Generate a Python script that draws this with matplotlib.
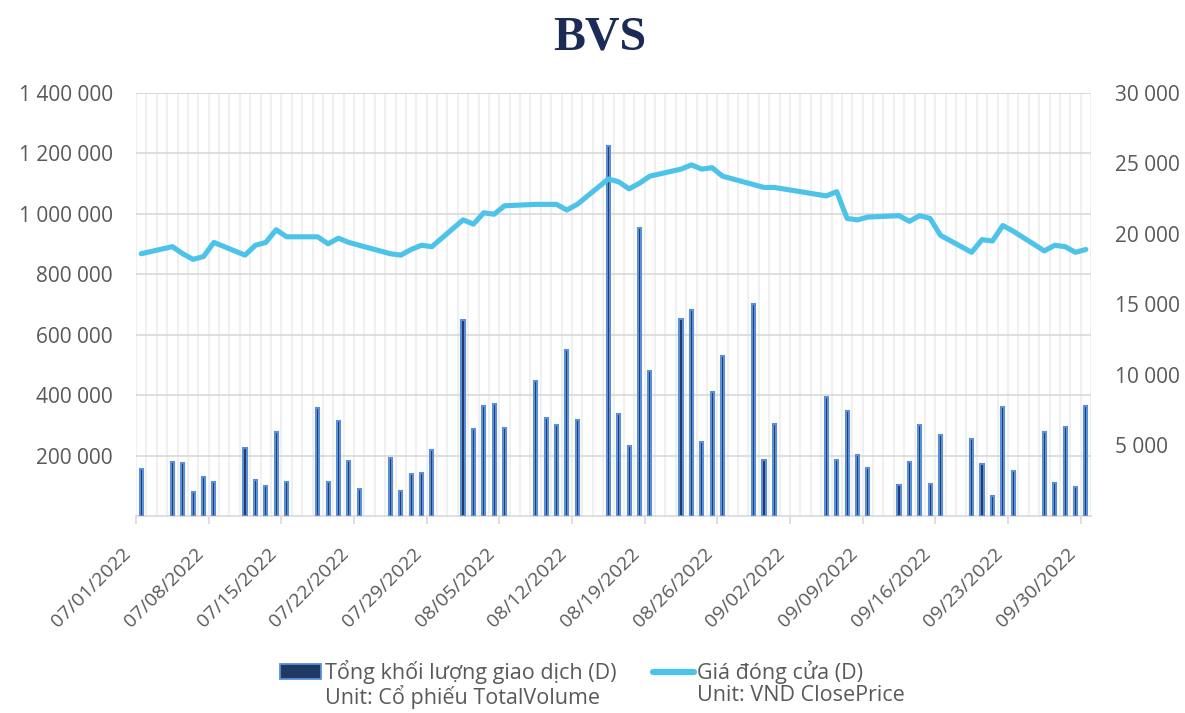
import pandas as pd
import matplotlib
matplotlib.use("Agg")
import matplotlib.pyplot as plt
import matplotlib.dates as mdates
import matplotlib.transforms as mtransforms
from matplotlib.ticker import FuncFormatter
from matplotlib.patches import Rectangle
from matplotlib.lines import Line2D

plt.rcParams['font.family'] = ['Open Sans', 'DejaVu Sans']

# trading days (Jul - Sep 2022)
dates = ["2022-07-01", "2022-07-04", "2022-07-05", "2022-07-06", "2022-07-07", "2022-07-08",
         "2022-07-11", "2022-07-12", "2022-07-13", "2022-07-14", "2022-07-15",
         "2022-07-18", "2022-07-19", "2022-07-20", "2022-07-21", "2022-07-22",
         "2022-07-25", "2022-07-26", "2022-07-27", "2022-07-28", "2022-07-29",
         "2022-08-01", "2022-08-02", "2022-08-03", "2022-08-04", "2022-08-05",
         "2022-08-08", "2022-08-09", "2022-08-10", "2022-08-11", "2022-08-12",
         "2022-08-15", "2022-08-16", "2022-08-17", "2022-08-18", "2022-08-19",
         "2022-08-22", "2022-08-23", "2022-08-24", "2022-08-25", "2022-08-26",
         "2022-08-29", "2022-08-30", "2022-08-31",
         "2022-09-05", "2022-09-06", "2022-09-07", "2022-09-08", "2022-09-09",
         "2022-09-12", "2022-09-13", "2022-09-14", "2022-09-15", "2022-09-16",
         "2022-09-19", "2022-09-20", "2022-09-21", "2022-09-22", "2022-09-23",
         "2022-09-26", "2022-09-27", "2022-09-28", "2022-09-29", "2022-09-30"]

total_volume = [154600, 180000, 176700, 80600, 129200, 113800,
                225300, 119300, 99400, 279400, 112600,
                358900, 111500, 314800, 182200, 90600,
                193300, 83900, 140300, 141400, 219800,
                647200, 288200, 365600, 371100, 292700,
                448400, 324700, 300400, 547800, 319200,
                1225900, 338000, 233000, 953100, 480400,
                650500, 681400, 246300, 411900, 529000,
                701300, 186600, 305900,
                395400, 185500, 349000, 203200, 159000,
                102700, 178900, 301500, 107100, 268400,
                255100, 172300, 65200, 362200, 149100,
                279400, 110400, 293800, 97200, 364400]

close_price = [18600, 19100, 18600, 18200, 18400, 19400,
               18500, 19200, 19400, 20300, 19800,
               19800, 19300, 19700, 19400, 19200,
               18600, 18500, 18900, 19200, 19100,
               21000, 20700, 21500, 21400, 22000,
               22100, 22100, 22100, 21700, 22100,
               23900, 23700, 23200, 23600, 24100,
               24600, 24900, 24600, 24700, 24100,
               23500, 23300, 23300,
               22700, 23000, 21100, 21000, 21200,
               21300, 20900, 21300, 21100, 19900,
               18700, 19600, 19500, 20600, 20200,
               18800, 19200, 19100, 18700, 18900]

x = pd.to_datetime(dates) + pd.Timedelta(hours=12)

fig = plt.figure(figsize=(11.85, 7.13), dpi=100)
ax = fig.add_axes([0.1148, 0.2763, 0.8059, 0.5933])
ax2 = ax.twinx()

ax.bar(x, total_volume, width=0.3, color='#1F3864', edgecolor='#5A8FDA', linewidth=1.5, zorder=3)
ax2.plot(x, close_price, color='#4DC3EA', linewidth=3.7, solid_joinstyle='round',
         solid_capstyle='round', zorder=4)

ax.set_xlim(pd.Timestamp("2022-07-01"), pd.Timestamp("2022-10-01"))
ax.set_ylim(0, 1400000)
ax2.set_ylim(0, 30000)

ax.set_xticks(pd.date_range("2022-07-01", "2022-09-30", freq="7D"))
ax.xaxis.set_minor_locator(mdates.DayLocator())
ax.xaxis.set_major_formatter(mdates.DateFormatter("%m/%d/%Y"))
ax.set_yticks(range(200000, 1400001, 200000))
ax2.set_yticks(range(5000, 30001, 5000))

fmt = FuncFormatter(lambda v, p: f"{int(v):,}".replace(",", " "))
ax.yaxis.set_major_formatter(fmt)
ax2.yaxis.set_major_formatter(fmt)

ax.grid(axis='y', color='#D9D9D9', linewidth=1.2, zorder=0)
ax.grid(axis='x', which='both', color='#F0F0F0', linewidth=1.5, zorder=0)
ax.set_axisbelow(True)
ax.axhline(1400000, color='#D9D9D9', linewidth=1.2, zorder=1)

for a in (ax, ax2):
    for s in ('top', 'left', 'right'):
        a.spines[s].set_visible(False)
ax.spines['bottom'].set_color('#D9D9D9')
ax.spines['bottom'].set_linewidth(1.2)
ax2.spines['bottom'].set_visible(False)

ax.tick_params(axis='x', which='major', length=6, color='#D9D9D9', width=1.2,
               labelsize=14, labelcolor='#595959', pad=4)
ax.tick_params(axis='x', which='minor', length=0)
ax.tick_params(axis='y', length=0, labelsize=15, labelcolor='#595959', pad=16.5)
ax2.tick_params(axis='y', length=0, labelsize=15, labelcolor='#595959', pad=17)
shift = mtransforms.ScaledTranslation(-0.14, -0.15, fig.dpi_scale_trans)
for lab in ax.get_xticklabels():
    lab.set_rotation(45)
    lab.set_ha('right')
    lab.set_rotation_mode('anchor')
    lab.set_transform(lab.get_transform() + shift)

fig.text(0.506, 0.948, "BVS", ha='center', va='center', fontsize=34.5, fontweight='bold',
         color='#1B2B56', family='Liberation Serif')

h_bar = Rectangle((0, 0), 1, 1, facecolor='#1F3864', edgecolor='#5A8FDA', linewidth=1.3)
h_line = Line2D([], [], color='#4DC3EA', linewidth=4.5, solid_capstyle='round')
h_blank = Line2D([], [], color='none')
fig.legend([h_bar, h_blank, h_line, h_blank],
           ["Tổng khối lượng giao dịch (D)", "Unit: Cổ phiếu TotalVolume",
            "Giá đóng cửa (D)", "Unit: VND ClosePrice"],
           loc='upper center', bbox_to_anchor=(0.5, 0.089), ncol=2, frameon=False,
           fontsize=15.5, labelcolor='#595959', handlelength=1.9, handletextpad=0.15,
           columnspacing=1.7, labelspacing=0.05, borderpad=0)

fig.savefig("out.png", dpi=100)
